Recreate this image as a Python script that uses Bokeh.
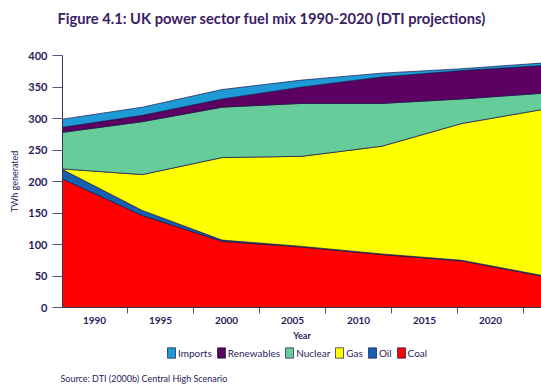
import numpy as np
from bokeh.plotting import figure
from bokeh.layouts import column
from bokeh.models import (Range1d, LinearAxis, FixedTicker, CustomJSTickFormatter,
                          Legend, LegendItem, Title)
from bokeh.embed import file_html
from bokeh.resources import INLINE

# ---- data (TWh generated) ----
years = [1990, 1995, 2000, 2005, 2010, 2015, 2020]
coal = [204, 146, 105, 96, 84, 74, 50]
oil = [15, 8, 2, 1, 1, 1, 1]
gas = [1, 57, 131, 143, 171, 217, 263]
nuclear = [58, 84, 80, 84, 68, 39, 26]
renewables = [8, 10, 13, 26, 42, 45, 44]
imports = [13, 13, 15, 11, 6, 3, 4]

year_labels = ["1990", "1995", "2000", "2005", "2010", "2015", "2020"]
y_ticks = [0, 50, 100, 150, 200, 250, 300, 350, 400]

series_names = ["Coal", "Oil", "Gas", "Nuclear", "Renewables", "Imports"]
series_values = [coal, oil, gas, nuclear, renewables, imports]
colors = ["#FF0000", "#1560B0", "#FFFF00", "#66CC99", "#5C0062", "#1E9BD7"]
legend_order = ["Imports", "Renewables", "Nuclear", "Gas", "Oil", "Coal"]

TXT = "#2B1A5A"
FONT = "Lato"
EDGE = "#1b1646"


def blank_strip(h):
    f = figure(width=541, height=h, x_range=Range1d(0, 1), y_range=Range1d(0, 1),
               output_backend="svg", toolbar_location=None,
               x_axis_location=None, y_axis_location=None, title=None,
               min_border_left=0, min_border_right=0, min_border_top=0,
               min_border_bottom=0)
    f.outline_line_color = None
    f.background_fill_color = "white"
    f.border_fill_color = "white"
    for g in f.grid:
        g.visible = False
    return f


# ================= title strip =================
p0 = blank_strip(47)
main_title = Title(text="Figure 4.1: UK power sector fuel mix 1990-2020 (DTI projections)",
                   align="left", offset=-5, standoff=16, vertical_align="top",
                   text_font=FONT, text_font_size="14.7px", text_font_style="bold",
                   text_color="#3A2165")
p0.add_layout(main_title, "above")

# ================= main chart =================
p = figure(width=541, height=297,
           x_range=Range1d(1990, 2020), y_range=Range1d(0, 400),
           output_backend="svg", toolbar_location=None, x_axis_location=None,
           title=None,
           min_border_left=62, min_border_right=0, min_border_top=8,
           min_border_bottom=37)
p.outline_line_color = None
p.background_fill_color = "white"
p.border_fill_color = "white"

# stacked areas
bottom = np.zeros(len(years))
rends = {}
polys = {}
for name, vals, col in zip(series_names, series_values, colors):
    top = bottom + np.array(vals, dtype=float)
    xs = list(years) + list(years[::-1])
    ys = list(top) + list(bottom[::-1])
    polys[name] = (xs, ys)
    rends[name] = p.patch(xs, ys, fill_color=col, line_color=EDGE, line_width=0.7)
    bottom = top

# grid: only the top line at 400
for g in p.xgrid:
    g.visible = False
p.ygrid.ticker = FixedTicker(ticks=[y_ticks[-1]])
p.ygrid.grid_line_color = "#999999"
p.ygrid.grid_line_width = 1

# y axis
ya = p.yaxis[0]
ya.ticker = FixedTicker(ticks=y_ticks)
ya.axis_label = "TWh generated"
ya.axis_label_text_font = FONT
ya.axis_label_text_font_size = "9px"
ya.axis_label_text_font_style = "normal"
ya.axis_label_text_color = TXT
ya.axis_label_standoff = 5
ya.major_label_text_font = FONT
ya.major_label_text_font_size = "11px"
ya.major_label_text_font_style = "bold"
ya.major_label_text_color = TXT
ya.major_label_standoff = 5
ya.major_tick_out = 10
ya.major_tick_in = 0
ya.minor_tick_out = 0
ya.minor_tick_in = 0
ya.axis_line_color = "#333355"
ya.major_tick_line_color = "#555577"

# x axis: labels centred between tick marks
p.extra_x_ranges = {"cat": Range1d(-0.485, 6.773)}
xa = LinearAxis(
    x_range_name="cat",
    ticker=FixedTicker(ticks=list(range(len(year_labels))),
                       minor_ticks=[i - 0.5 for i in range(len(year_labels) + 1)]),
    formatter=CustomJSTickFormatter(
        args=dict(labels=year_labels),
        code="const i = Math.round(tick); return (i >= 0 && i < labels.length) ? labels[i] : '';"),
    axis_label="Year",
)
xa.axis_label_text_font = FONT
xa.axis_label_text_font_size = "9px"
xa.axis_label_text_font_style = "bold"
xa.axis_label_text_color = TXT
xa.axis_label_standoff = 3
xa.major_label_text_font = FONT
xa.major_label_text_font_size = "10px"
xa.major_label_text_font_style = "bold"
xa.major_label_text_color = TXT
xa.major_label_standoff = 3
xa.major_tick_out = 0
xa.major_tick_in = 0
xa.minor_tick_out = 6
xa.minor_tick_in = 0
xa.minor_tick_line_color = "#555577"
xa.axis_line_color = "#333355"
p.add_layout(xa, "below")

# ================= legend + source strip =================
p2 = blank_strip(45)
key_rends = {}
for name, col in zip(series_names, colors):
    xs, ys = polys[name]  # same polygons, outside this strip's view
    key_rends[name] = p2.patch(xs, ys, fill_color=col, line_color=EDGE, line_width=0.7)

legend = Legend(items=[LegendItem(label=n, renderers=[key_rends[n]]) for n in legend_order],
                orientation="horizontal", location=(104, 6))
legend.label_text_font = FONT
legend.label_text_font_size = "10px"
legend.label_text_color = TXT
legend.label_standoff = 2
legend.label_width = 5
legend.spacing = 4
legend.glyph_width = 10
legend.glyph_height = 13
legend.padding = 0
legend.margin = 0
legend.border_line_color = None
legend.background_fill_alpha = 0
p2.add_layout(legend)

src = Title(text="Source: DTI (2000b) Central High Scenario", align="left",
            text_font=FONT, text_font_size="9px", text_font_style="normal",
            text_color=TXT, standoff=11, offset=-2)
p2.add_layout(src, "below")

layout = column(p0, p, p2, spacing=0)
open("out.html", "w").write(file_html(layout, INLINE))
